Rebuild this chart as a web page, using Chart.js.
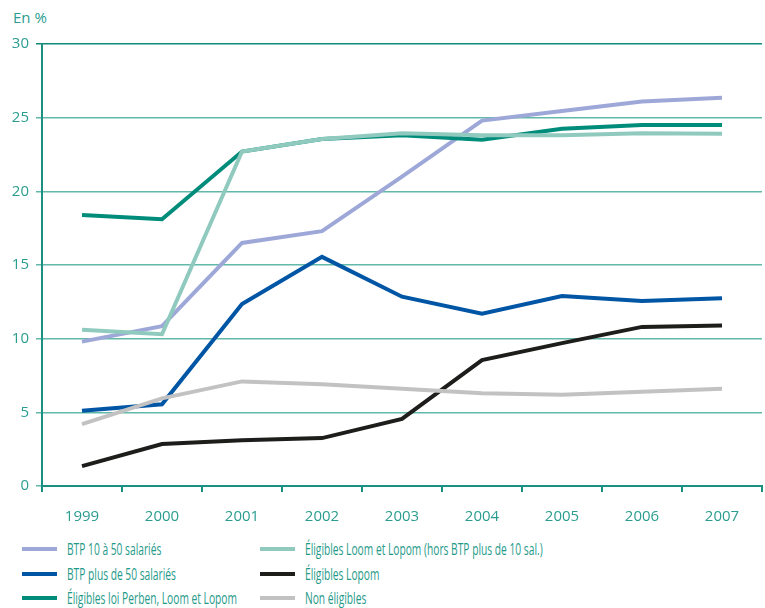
<!DOCTYPE html>
<html>
<head>
<meta charset="utf-8">
<script src="https://cdn.jsdelivr.net/npm/chart.js@4"></script>
<style>
    body { margin: 0; background: #fff; }
    #wrap { position: relative; width: 765px; height: 608px; }
    #unite { position: absolute; left: 13px; top: 7px; font: 15px "Open Sans", sans-serif; color: #2a9d8f; }
    #box { position: absolute; left: 0; top: 0; width: 765px; height: 530px; }
    #legende { position: absolute; left: 22px; top: 537px; width: 740px; }
    .item { position: absolute; height: 24px; font: 15.5px "Open Sans", sans-serif; color: #1f9a89; white-space: nowrap; }
    .trait { position: absolute; left: 0; top: 10px; width: 35px; height: 4px; }
    .texte { position: absolute; left: 45px; top: 1px; transform: scaleX(0.66); transform-origin: left center; }
</style>
</head>
<body>
<div id="wrap">
    <div id="unite">En %</div>
    <div id="box"><canvas id="graphique" width="765" height="530"></canvas></div>
    <div id="legende"></div>
</div>
<script>
var annees = ['1999', '2000', '2001', '2002', '2003', '2004', '2005', '2006', '2007'];

var btp10a50 = [9.8, 10.85, 16.5, 17.3, 21.0, 24.8, 25.45, 26.1, 26.35];
var btpPlus50 = [5.1, 5.55, 12.35, 15.55, 12.85, 11.7, 12.9, 12.55, 12.75];
var perbenLoomLopom = [18.4, 18.1, 22.7, 23.55, 23.8, 23.5, 24.25, 24.5, 24.5];
var loomLopom = [10.6, 10.3, 22.7, 23.55, 23.95, 23.8, 23.8, 23.95, 23.9];
var lopom = [1.35, 2.85, 3.1, 3.25, 4.55, 8.55, 9.7, 10.8, 10.9];
var nonEligibles = [4.2, 5.95, 7.1, 6.9, 6.6, 6.3, 6.2, 6.4, 6.6];

var noms = [
    'BTP 10 à 50 salariés',
    'BTP plus de 50 salariés',
    'Éligibles loi Perben, Loom et Lopom',
    'Éligibles Loom et Lopom (hors BTP plus de 10 sal.)',
    'Éligibles Lopom',
    'Non éligibles'
];
var couleurs = ['#9ea8d8', '#0055a5', '#008c7a', '#90cabf', '#1d1d1b', '#c2c2c2'];
var series = [btp10a50, btpPlus50, perbenLoomLopom, loomLopom, lopom, nonEligibles];

// ordre de dessin : le plus clair en dessous
var ordre = [5, 4, 1, 3, 2, 0];
var datasets = ordre.map(function (i) {
    return {
        label: noms[i],
        data: series[i],
        borderColor: couleurs[i],
        borderWidth: 4,
        pointRadius: 0,
        tension: 0,
        fill: false
    };
});

var teal = '#1b8f80';

new Chart(document.getElementById('graphique'), {
    type: 'line',
    data: { labels: annees, datasets: datasets },
    options: {
        responsive: false,
        animation: false,
        layout: { padding: { left: 0, top: 44, right: 3, bottom: 0 } },
        plugins: { legend: { display: false }, tooltip: { enabled: false } },
        scales: {
            x: {
                offset: true,
                afterFit: function (s) { s.height = 44; },
                grid: { offset: true, drawOnChartArea: false, drawTicks: true, tickLength: 6, color: teal, lineWidth: 2 },
                border: { color: teal, width: 2 },
                ticks: { color: '#2a9d8f', padding: 16, font: { family: 'Open Sans', size: 15 } }
            },
            y: {
                min: 0,
                max: 30,
                afterFit: function (s) { s.width = 42; },
                ticks: { stepSize: 5, color: '#2a9d8f', padding: 7, font: { family: 'Open Sans', size: 15 } },
                grid: {
                    tickLength: 6,
                    lineWidth: 1.5,
                    color: function (c) { return c.tick && c.tick.value == 30 ? '#0f8a78' : '#62b8a9'; }
                },
                border: { color: teal, width: 2 }
            }
        }
    }
});

// légende en deux colonnes
var legende = document.getElementById('legende');
for (var i = 0; i < noms.length; i++) {
    var col = i < 3 ? 0 : 1;
    var ligne = i % 3;
    var item = document.createElement('div');
    item.className = 'item';
    item.style.left = (col * 238) + 'px';
    item.style.top = (ligne * 24.5) + 'px';
    item.innerHTML = '<div class="trait" style="background:' + couleurs[i] + '"></div><span class="texte">' + noms[i] + '</span>';
    legende.appendChild(item);
}
</script>
</body>
</html>
